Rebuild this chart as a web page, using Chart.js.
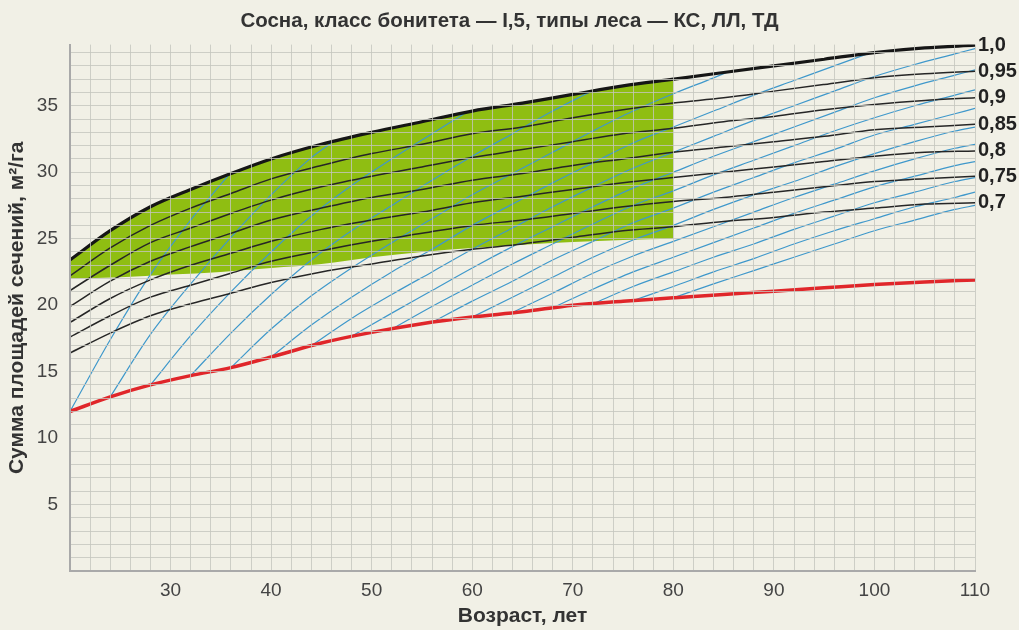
<!DOCTYPE html>
<html>
<head>
<meta charset="utf-8">
<title>Сосна, класс бонитета I,5</title>
<script src="https://cdn.jsdelivr.net/npm/chart.js@4.4.1/dist/chart.umd.min.js"></script>
<style>
  html, body { margin: 0; padding: 0; background: #f1f0e6; }
  canvas { display: block; }
</style>
</head>
<body>
<canvas id="chart" width="1019" height="630"></canvas>
<script>
// Сумма площадей сечений сосняков по возрасту и полноте

var TITLE = 'Сосна, класс бонитета — I,5, типы леса — КС, ЛЛ, ТД';

// возраст для кривых полноты и нижней (красной) кривой
var AGES = [20, 24, 28, 32, 36, 40, 45, 50, 55, 60, 65, 70, 75, 80, 85, 90, 95, 100, 105, 110];

var DENSITY_100 = [23.4, 25.6, 27.4, 28.7, 29.9, 31.0, 32.1, 33.0, 33.8, 34.6, 35.2, 35.85, 36.5, 37.0, 37.5, 38.0, 38.5, 39.0, 39.35, 39.55];
var DENSITY_095 = [22.2, 24.3, 26.0, 27.3, 28.4, 29.5, 30.5, 31.4, 32.1, 32.9, 33.4, 34.1, 34.7, 35.2, 35.6, 36.1, 36.6, 37.1, 37.4, 37.6];
var DENSITY_090 = [21.1, 23.0, 24.7, 25.8, 26.9, 27.9, 28.9, 29.7, 30.4, 31.1, 31.7, 32.3, 32.9, 33.3, 33.8, 34.2, 34.7, 35.1, 35.4, 35.6];
var DENSITY_085 = [19.9, 21.8, 23.3, 24.4, 25.4, 26.4, 27.3, 28.1, 28.7, 29.4, 29.9, 30.5, 31.0, 31.5, 31.9, 32.3, 32.7, 33.2, 33.4, 33.6];
var DENSITY_080 = [18.7, 20.5, 21.9, 23.0, 23.9, 24.8, 25.7, 26.4, 27.0, 27.7, 28.2, 28.7, 29.2, 29.6, 30.0, 30.4, 30.8, 31.2, 31.5, 31.6];
var DENSITY_075 = [17.6, 19.2, 20.6, 21.5, 22.4, 23.3, 24.1, 24.8, 25.4, 26.0, 26.4, 26.9, 27.4, 27.8, 28.1, 28.5, 28.9, 29.3, 29.5, 29.7];
var DENSITY_070 = [16.4, 17.9, 19.2, 20.1, 20.9, 21.7, 22.5, 23.1, 23.7, 24.2, 24.6, 25.1, 25.6, 25.9, 26.3, 26.6, 27.0, 27.3, 27.6, 27.7];
var MIN_LINE = [12.0, 13.1, 14.0, 14.7, 15.3, 16.1, 17.15, 17.95, 18.6, 19.1, 19.5, 20.0, 20.3, 20.55, 20.8, 21.05, 21.3, 21.55, 21.75, 21.9];

var DENSITY_LABELS = ['1,0', '0,95', '0,9', '0,85', '0,8', '0,75', '0,7'];

// зелёная зона: нижняя граница (верхняя — кривая полноты 1,0 до 80 лет)
var ZONE_AGES = [20, 25, 30, 35, 40, 45, 50, 55, 60, 65, 70, 75, 80];
var ZONE_LOW = [22.0, 22.1, 22.3, 22.5, 22.8, 23.1, 23.6, 24.0, 24.3, 24.55, 24.75, 24.9, 25.0];
var ZONE_END_AGE = 80;

// синие линии хода роста, от красной кривой каждые 4 года
var GROWTH_AGES = [
  [20, 24, 28, 32, 34, 35.8],
  [24, 28, 32, 36, 40, 44, 46],
  [28, 32, 36, 40, 44, 48, 52, 56, 59.4],
  [32, 36, 40, 44, 48, 52, 56, 60, 64, 68, 71.6],
  [36, 40, 44, 48, 52, 56, 60, 64, 68, 72, 76, 80, 84, 85.6],
  [40, 44, 48, 52, 56, 60, 64, 68, 72, 76, 80, 84, 88, 92, 96, 99.3],
  [44, 48, 52, 56, 60, 64, 68, 72, 76, 80, 84, 88, 92, 96, 100, 104, 108, 110],
  [48, 52, 56, 60, 64, 68, 72, 76, 80, 84, 88, 92, 96, 100, 104, 108, 110],
  [52, 56, 60, 64, 68, 72, 76, 80, 84, 88, 92, 96, 100, 104, 108, 110],
  [56, 60, 64, 68, 72, 76, 80, 84, 88, 92, 96, 100, 104, 108, 110],
  [60, 64, 68, 72, 76, 80, 84, 88, 92, 96, 100, 104, 108, 110],
  [64, 68, 72, 76, 80, 84, 88, 92, 96, 100, 104, 108, 110],
  [68, 72, 76, 80, 84, 88, 92, 96, 100, 104, 108, 110],
  [72, 76, 80, 84, 88, 92, 96, 100, 104, 108, 110],
  [76, 80, 84, 88, 92, 96, 100, 104, 108, 110],
  [80, 84, 88, 92, 96, 100, 104, 108, 110]
];
var GROWTH_VALUES = [
  [12.0, 17.4, 22.3, 26.4, 28.2, 29.8],
  [13.1, 17.8, 21.6, 25.1, 28.3, 31.1, 32.2],
  [14.0, 17.7, 21.0, 24.0, 26.7, 29.0, 31.0, 32.9, 34.5],
  [14.7, 17.9, 20.8, 23.4, 25.6, 27.5, 29.4, 31.2, 32.9, 34.6, 36.0],
  [15.3, 18.2, 20.7, 22.8, 24.7, 26.5, 28.3, 29.9, 31.5, 33.1, 34.6, 35.9, 37.1, 37.6],
  [16.1, 18.5, 20.6, 22.5, 24.2, 26.0, 27.6, 29.2, 30.7, 32.2, 33.4, 34.6, 35.8, 36.9, 38.0, 38.9],
  [16.95, 19.0, 20.8, 22.5, 24.2, 25.8, 27.4, 28.9, 30.3, 31.5, 32.7, 33.9, 35.0, 36.1, 37.2, 38.1, 38.9, 39.3],
  [17.65, 19.4, 21.1, 22.8, 24.4, 25.9, 27.4, 28.8, 30.0, 31.2, 32.3, 33.4, 34.5, 35.6, 36.5, 37.3, 37.7],
  [18.2, 19.9, 21.5, 23.1, 24.6, 26.1, 27.5, 28.6, 29.8, 30.9, 32.0, 33.1, 34.1, 35.0, 35.8, 36.2],
  [18.7, 20.3, 21.8, 23.4, 24.8, 26.2, 27.3, 28.5, 29.6, 30.7, 31.7, 32.8, 33.6, 34.4, 34.8],
  [19.1, 20.6, 22.1, 23.6, 24.9, 26.0, 27.2, 28.3, 29.3, 30.4, 31.4, 32.3, 33.1, 33.4],
  [19.45, 20.9, 22.4, 23.7, 24.8, 25.9, 27.0, 28.1, 29.1, 30.1, 31.0, 31.8, 32.1],
  [19.8, 21.2, 22.5, 23.6, 24.7, 25.8, 26.9, 27.9, 28.9, 29.7, 30.5, 30.8],
  [20.1, 21.4, 22.5, 23.6, 24.6, 25.7, 26.7, 27.7, 28.5, 29.3, 29.6],
  [20.35, 21.4, 22.5, 23.5, 24.6, 25.6, 26.5, 27.4, 28.1, 28.5],
  [20.55, 21.6, 22.6, 23.6, 24.6, 25.6, 26.4, 27.2, 27.5]
];

var COLORS = {
  bg: '#f1f0e6',
  grid: 'rgba(196,198,190,0.8)',
  axis: '#a9a9a9',
  green: '#8fbe12',
  black: '#161616',
  thin: '#262626',
  red: '#e0262a',
  blue: '#3f98cb',
  text: '#3a3a3a'
};

Chart.defaults.font.family = "'Liberation Sans', Arial, sans-serif";
Chart.defaults.color = COLORS.text;

function toPoints(ages, values) {
  return ages.map(function (a, i) { return { x: a, y: values[i] }; });
}

function curve(label, ages, values, color, width, order) {
  return {
    label: label,
    data: toPoints(ages, values),
    borderColor: color,
    borderWidth: width,
    fill: false,
    order: order
  };
}

var zoneCount = AGES.indexOf(ZONE_END_AGE) + 1;

var datasets = [
  curve('1,0', AGES, DENSITY_100, COLORS.black, 3.2, 0),
  curve('Минимум', AGES, MIN_LINE, COLORS.red, 3.5, 0),
  curve('0,95', AGES, DENSITY_095, COLORS.thin, 1.5, 1),
  curve('0,9', AGES, DENSITY_090, COLORS.thin, 1.5, 1),
  curve('0,85', AGES, DENSITY_085, COLORS.thin, 1.5, 1),
  curve('0,8', AGES, DENSITY_080, COLORS.thin, 1.5, 1),
  curve('0,75', AGES, DENSITY_075, COLORS.thin, 1.5, 1),
  curve('0,7', AGES, DENSITY_070, COLORS.thin, 1.5, 1)
];

GROWTH_AGES.forEach(function (ages, i) {
  datasets.push(curve('ход роста ' + ages[0], ages, GROWTH_VALUES[i], COLORS.blue, 1.2, 2));
});

datasets.push({
  label: 'зона верх',
  data: toPoints(AGES.slice(0, zoneCount), DENSITY_100.slice(0, zoneCount)),
  borderWidth: 0,
  borderColor: 'rgba(0,0,0,0)',
  backgroundColor: COLORS.green,
  fill: '+1',
  order: 3
});
datasets.push({
  label: 'зона низ',
  data: toPoints(ZONE_AGES, ZONE_LOW),
  borderWidth: 0,
  borderColor: 'rgba(0,0,0,0)',
  fill: false,
  order: 3
});

var densityEnds = [DENSITY_100, DENSITY_095, DENSITY_090, DENSITY_085, DENSITY_080, DENSITY_075, DENSITY_070]
  .map(function (arr) { return arr[arr.length - 1]; });

new Chart(document.getElementById('chart'), {
  type: 'line',
  data: { datasets: datasets },
  options: {
    responsive: false,
    animation: false,
    layout: { padding: 0 },
    elements: {
      point: { radius: 0 },
      line: { cubicInterpolationMode: 'monotone' }
    },
    plugins: {
      legend: { display: false },
      tooltip: { enabled: false },
      title: {
        display: true,
        text: TITLE,
        color: '#333',
        font: { size: 20.5, weight: 'bold' },
        padding: { top: 9, bottom: 11 }
      }
    },
    scales: {
      x: {
        type: 'linear',
        min: 20,
        max: 110,
        grid: { color: COLORS.grid, lineWidth: 1, drawTicks: false, z: 1 },
        border: { color: COLORS.axis, width: 2, z: 2 },
        ticks: {
          stepSize: 2,
          autoSkip: false,
          maxRotation: 0,
          padding: 8,
          color: '#444',
          font: { size: 19 },
          callback: function (v) { return (v % 10 === 0 && v > 20) ? String(v) : ''; }
        },
        title: {
          display: true,
          text: 'Возраст, лет',
          color: '#333',
          font: { size: 21, weight: 'bold' },
          padding: { top: 0, bottom: 1 }
        },
        afterFit: function (s) { s.height = 59; }
      },
      y: {
        type: 'linear',
        min: 0,
        max: 39.6,
        grid: { color: COLORS.grid, lineWidth: 1, drawTicks: false, z: 1 },
        border: { color: COLORS.axis, width: 2, z: 2 },
        ticks: {
          stepSize: 1,
          includeBounds: false,
          autoSkip: false,
          padding: 12,
          color: '#444',
          font: { size: 19 },
          callback: function (v) { return (v % 5 === 0 && v > 0) ? String(v) : ''; }
        },
        title: {
          display: true,
          text: 'Сумма площадей сечений, м²/га',
          color: '#333',
          font: { size: 21, weight: 'bold' },
          padding: { top: 5, bottom: 0 }
        },
        afterFit: function (s) { s.width = 70; }
      },
      y2: {
        type: 'linear',
        position: 'right',
        min: 0,
        max: 39.6,
        grid: { display: false, drawTicks: false },
        border: { display: false },
        afterBuildTicks: function (s) {
          s.ticks = densityEnds.map(function (v) { return { value: v }; });
        },
        ticks: {
          autoSkip: false,
          padding: 3,
          color: '#222',
          font: { size: 20, weight: 'bold' },
          callback: function (v, i) { return DENSITY_LABELS[i]; }
        },
        afterFit: function (s) { s.width = 44; }
      }
    }
  }
});
</script>
</body>
</html>
